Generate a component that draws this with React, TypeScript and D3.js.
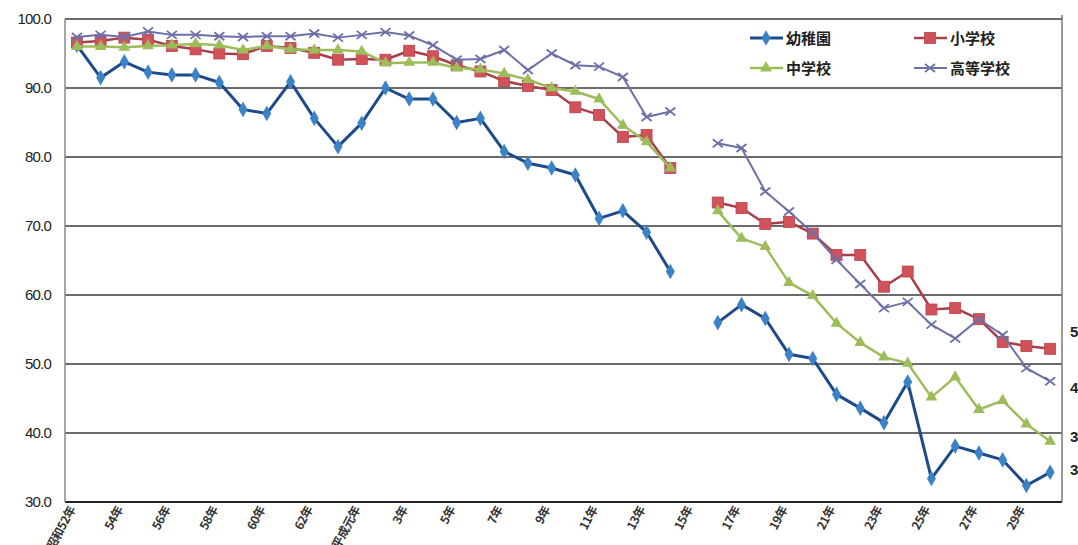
import React, { useEffect, useRef } from 'react';
import * as d3 from 'd3';

// 昭和52年(1977) .. 平成30年(2018); 平成15年 has no data
const years = d3.range(1977, 2019);

const tickLabels = [
    '昭和52年', '54年', '56年', '58年', '60年', '62年', '平成元年', '3年', '5年', '7年', '9年',
    '11年', '13年', '15年', '17年', '19年', '21年', '23年', '25年', '27年', '29年',
];

const yTicks = [30, 40, 50, 60, 70, 80, 90, 100];

const kindergarten = [
    96.2, 91.5, 93.8, 92.3, 91.9, 91.9, 90.8, 86.9, 86.3, 90.9, 85.6, 81.5,
    84.9, 90.0, 88.4, 88.4, 85.0, 85.6, 80.8, 79.1, 78.4, 77.4, 71.1, 72.2,
    69.1, 63.4, null, 56.0, 58.6, 56.6, 51.4, 50.8, 45.6, 43.6, 41.5, 47.4,
    33.4, 38.1, 37.1, 36.1, 32.4, 34.3,
];
const elementary = [
    96.6, 96.8, 97.3, 97.0, 96.1, 95.6, 95.0, 94.9, 96.1, 95.8, 95.1, 94.1,
    94.2, 94.1, 95.4, 94.6, 93.3, 92.4, 91.0, 90.3, 89.7, 87.2, 86.1, 82.9,
    83.2, 78.4, null, 73.4, 72.6, 70.3, 70.6, 68.9, 65.8, 65.8, 61.2, 63.4,
    57.9, 58.1, 56.5, 53.2, 52.6, 52.2,
];
const juniorHigh = [
    96.0, 96.0, 95.9, 96.1, 96.2, 96.4, 96.2, 95.5, 96.1, 95.6, 95.5, 95.5,
    95.3, 93.6, 93.7, 93.7, 92.9, 92.7, 92.1, 91.2, 90.0, 89.5, 88.4, 84.6,
    82.2, 78.4, null, 72.2, 68.2, 67.0, 61.8, 59.9, 55.9, 53.1, 51.0, 50.1,
    45.2, 48.1, 43.4, 44.7, 41.3, 38.8,
];
const highSchool = [
    97.4, 97.7, 97.4, 98.2, 97.7, 97.7, 97.5, 97.4, 97.5, 97.5, 97.9, 97.3,
    97.7, 98.1, 97.6, 96.2, 94.1, 94.2, 95.5, 92.6, 95.0, 93.3, 93.1, 91.6,
    85.8, 86.6, null, 82.0, 81.3, 75.0, 72.1, 69.0, 65.1, 61.6, 58.1, 59.0,
    55.7, 53.7, 56.5, 54.2, 49.4, 47.5,
];

type Series = {
    name: string;
    values: (number | null)[];
    line: string;
    fill: string;
    marker: 'diamond' | 'square' | 'triangle' | 'cross';
    width: number;
    labelDy: number;
};

const series: Series[] = [
    { name: '幼稚園', values: kindergarten, line: '#1d4a8a', fill: '#3c82c6', marker: 'diamond', width: 3, labelDy: -2 },
    { name: '小学校', values: elementary, line: '#a8404c', fill: '#d2525a', marker: 'square', width: 2.5, labelDy: -17 },
    { name: '中学校', values: juniorHigh, line: '#9cbd5a', fill: '#9cbd5a', marker: 'triangle', width: 2.5, labelDy: -4 },
    { name: '高等学校', values: highSchool, line: '#6c70a8', fill: '#6c70a8', marker: 'cross', width: 2, labelDy: 7 },
];

const drawMarker = (g: d3.Selection<SVGGElement, unknown, null, undefined>, s: Series, cx: number, cy: number) => {
    if (s.marker === 'diamond') {
        g.append('path')
            .attr('d', d3.symbol(d3.symbolDiamond, 70)())
            .attr('transform', `translate(${cx},${cy})`)
            .attr('fill', s.fill);
    } else if (s.marker === 'square') {
        g.append('rect')
            .attr('x', cx - 5.5).attr('y', cy - 5.5)
            .attr('width', 11).attr('height', 11)
            .attr('fill', s.fill)
            .attr('stroke', '#b8444c').attr('stroke-width', 0.8);
    } else if (s.marker === 'triangle') {
        g.append('path')
            .attr('d', d3.symbol(d3.symbolTriangle, 60)())
            .attr('transform', `translate(${cx},${cy})`)
            .attr('fill', s.fill);
    } else {
        g.append('path')
            .attr('d', `M${cx - 5},${cy - 4}L${cx + 5},${cy + 4}M${cx - 5},${cy + 4}L${cx + 5},${cy - 4}`)
            .attr('stroke', s.fill)
            .attr('stroke-width', 1.8)
            .attr('fill', 'none');
    }
};

const App: React.FC = () => {
    const ref = useRef<SVGSVGElement>(null);

    useEffect(() => {
        if (!ref.current) return;
        const svg = d3.select(ref.current);
        svg.selectAll('*').remove();

        const width = 1078;
        const height = 545;
        const margin = { top: 19, right: 16, bottom: 43, left: 65 };

        const x = d3.scaleBand<number>()
            .domain(years)
            .range([margin.left, width - margin.right]);
        const cx = (yr: number) => (x(yr) as number) + x.bandwidth() / 2;

        const y = d3.scaleLinear()
            .domain([30, 100])
            .range([height - margin.bottom, margin.top]);

        svg.append('rect').attr('width', width).attr('height', height).attr('fill', '#fff');

        // gridlines
        svg.append('g')
            .selectAll('line')
            .data(yTicks)
            .enter()
            .append('line')
            .attr('x1', margin.left)
            .attr('x2', width - margin.right)
            .attr('y1', (d) => y(d))
            .attr('y2', (d) => y(d))
            .attr('stroke', (d) => (d === 30 ? '#222' : '#3a3a3a'))
            .attr('stroke-width', (d) => (d === 30 ? 2 : 1.5));

        // frame sides
        svg.append('line')
            .attr('x1', margin.left).attr('x2', margin.left)
            .attr('y1', y(100)).attr('y2', y(30))
            .attr('stroke', '#888').attr('stroke-width', 1.5);
        svg.append('line')
            .attr('x1', width - margin.right).attr('x2', width - margin.right)
            .attr('y1', y(100) - 4).attr('y2', y(30))
            .attr('stroke', '#777').attr('stroke-width', 1.5);

        // y tick labels
        svg.append('g')
            .selectAll('text')
            .data(yTicks)
            .enter()
            .append('text')
            .attr('x', 51)
            .attr('y', (d) => y(d) + 5)
            .attr('text-anchor', 'end')
            .attr('font-family', 'Liberation Sans, Arial, sans-serif')
            .attr('font-size', 15)
            .attr('letter-spacing', -0.8)
            .attr('fill', '#222')
            .text((d) => d.toFixed(1));

        // x tick labels (every other year)
        const labelled = years.filter((_, i) => i % 2 === 0);
        svg.append('g')
            .selectAll('text')
            .data(labelled)
            .enter()
            .append('text')
            .attr('transform', (d) => `translate(${cx(d) - 1},${height - margin.bottom + 7}) rotate(-62)`)
            .attr('text-anchor', 'end')
            .attr('font-family', 'Noto Sans CJK JP, sans-serif')
            .attr('font-weight', 'bold')
            .attr('font-size', 12)
            .attr('letter-spacing', -0.5)
            .attr('fill', '#333')
            .text((_, i) => tickLabels[i]);

        // lines and markers
        series.forEach((s) => {
            const pts = years.map((yr, i) => ({ yr, v: s.values[i] }));
            const line = d3.line<{ yr: number; v: number | null }>()
                .defined((d) => d.v !== null)
                .x((d) => cx(d.yr))
                .y((d) => y(d.v as number));
            svg.append('path')
                .datum(pts)
                .attr('d', line)
                .attr('fill', 'none')
                .attr('stroke', s.line)
                .attr('stroke-width', s.width)
                .attr('stroke-linejoin', 'round');
            const g = svg.append('g');
            pts.forEach((p) => {
                if (p.v !== null) drawMarker(g, s, cx(p.yr), y(p.v));
            });
        });

        // end-of-series value labels (cut by the page edge, as in the source)
        series.forEach((s) => {
            const last = s.values[s.values.length - 1] as number;
            svg.append('text')
                .attr('x', width - 8)
                .attr('y', y(last) + s.labelDy + 5)
                .attr('font-family', 'Liberation Sans, Arial, sans-serif')
                .attr('font-weight', 'bold')
                .attr('font-size', 15)
                .attr('fill', '#222')
                .text(last.toFixed(1));
        });

        // legend
        const legendPos = [
            { lx: 750, ly: 38 },
            { lx: 914, ly: 38 },
            { lx: 750, ly: 68 },
            { lx: 914, ly: 68 },
        ];
        series.forEach((s, i) => {
            const { lx, ly } = legendPos[i];
            const g = svg.append('g');
            g.append('line')
                .attr('x1', lx).attr('x2', lx + 33)
                .attr('y1', ly).attr('y2', ly)
                .attr('stroke', s.line).attr('stroke-width', s.width);
            drawMarker(g, s, lx + 16, ly);
            g.append('text')
                .attr('x', lx + 36)
                .attr('y', ly + 5.5)
                .attr('font-family', 'Noto Sans CJK JP, sans-serif')
                .attr('font-weight', 'bold')
                .attr('font-size', 15)
                .attr('fill', '#222')
                .text(s.name);
        });
    }, []);

    return (
        <div style={{ position: 'absolute', left: 0, top: 0 }}>
            <svg ref={ref} width={1078} height={545} style={{ display: 'block' }} />
        </div>
    );
};

export default App;
